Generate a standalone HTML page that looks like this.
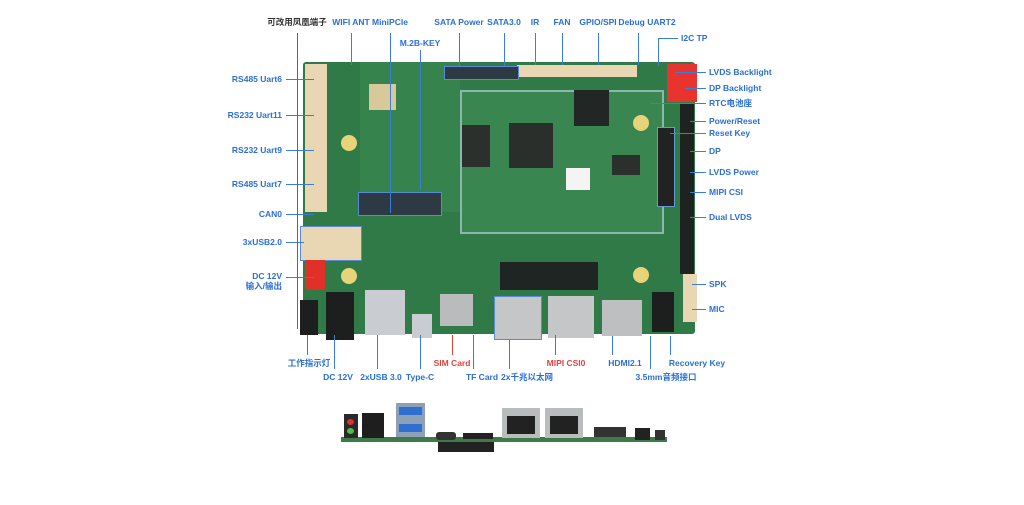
<!DOCTYPE html>
<html><head><meta charset="utf-8"><style>
body{margin:0;width:1024px;height:505px;background:#fff;position:relative;overflow:hidden;font-family:"Liberation Sans","Noto Sans CJK SC",sans-serif}
.t{position:absolute;font-size:8.5px;color:#2a6fd6;white-space:nowrap;font-weight:bold;line-height:10px}
.c{transform:translateX(-50%)}
.r{text-align:right}
.red{color:#e2453f}
.k{color:#333}
.l{position:absolute;background:#3a7ed8}
.b{position:absolute}
</style></head><body>
<!-- board -->
<div class="b" style="left:303px;top:62px;width:392px;height:272px;background:#2f7a46;border-radius:3px"></div>
<div class="b" style="left:360px;top:62px;width:100px;height:150px;background:#37834d"></div>
<div class="b" style="left:460px;top:90px;width:200px;height:140px;background:#3a8650;border:2px solid #8ab8b0"></div>
<div class="b" style="left:509px;top:123px;width:44px;height:45px;background:#2a2f2c"></div>
<div class="b" style="left:462px;top:125px;width:28px;height:42px;background:#2b302d"></div>
<div class="b" style="left:574px;top:90px;width:35px;height:36px;background:#222624"></div>
<div class="b" style="left:612px;top:155px;width:28px;height:20px;background:#2b302d"></div>
<div class="b" style="left:566px;top:168px;width:24px;height:22px;background:#f4f4f4"></div>
<div class="b" style="left:369px;top:84px;width:27px;height:26px;background:#d8c99a"></div>
<div class="b" style="left:358px;top:192px;width:82px;height:22px;background:#2d3a44;border:1px solid #5a8ad6"></div>
<div class="b" style="left:305px;top:64px;width:22px;height:148px;background:#e9d7b4"></div>
<div class="b" style="left:300px;top:226px;width:60px;height:33px;background:#e9d7b4;border:1px solid #5a8ad6"></div>
<div class="b" style="left:305px;top:260px;width:20px;height:30px;background:#e0302a"></div>
<div class="b" style="left:667px;top:64px;width:30px;height:38px;background:#e8342e"></div>
<div class="b" style="left:680px;top:104px;width:14px;height:170px;background:#1e2321"></div>
<div class="b" style="left:683px;top:274px;width:14px;height:48px;background:#e9d7b4"></div>
<div class="b" style="left:517px;top:65px;width:120px;height:12px;background:#e9d7b4"></div>
<div class="b" style="left:444px;top:66px;width:73px;height:12px;background:#2d3a44;border:1px solid #5a8ad6"></div>
<div class="b" style="left:657px;top:127px;width:16px;height:78px;background:#222;border:1px solid #6a9ad6"></div>
<div class="b" style="left:500px;top:262px;width:98px;height:28px;background:#1f2522"></div>
<div class="b" style="left:365px;top:290px;width:40px;height:45px;background:#c9ccd0"></div>
<div class="b" style="left:326px;top:292px;width:28px;height:48px;background:#1d1f1f"></div>
<div class="b" style="left:300px;top:300px;width:18px;height:35px;background:#1d1f1f"></div>
<div class="b" style="left:412px;top:314px;width:20px;height:24px;background:#c9ccd0"></div>
<div class="b" style="left:440px;top:294px;width:33px;height:32px;background:#b9bbbd"></div>
<div class="b" style="left:494px;top:296px;width:46px;height:42px;background:#c4c6c8;border:1px solid #5a8ad6"></div>
<div class="b" style="left:548px;top:296px;width:46px;height:42px;background:#c4c6c8"></div>
<div class="b" style="left:602px;top:300px;width:40px;height:36px;background:#bdbfc1"></div>
<div class="b" style="left:652px;top:292px;width:22px;height:40px;background:#1d1f1f"></div>
<div class="b" style="left:341px;top:135px;width:16px;height:16px;border-radius:50%;background:#e7d37a"></div>
<div class="b" style="left:341px;top:268px;width:16px;height:16px;border-radius:50%;background:#e7d37a"></div>
<div class="b" style="left:633px;top:115px;width:16px;height:16px;border-radius:50%;background:#e7d37a"></div>
<div class="b" style="left:633px;top:267px;width:16px;height:16px;border-radius:50%;background:#e7d37a"></div>

<!-- top labels -->
<div class="t k c" style="left:297px;top:17px">可改用凤凰端子</div>
<div class="t c" style="left:351px;top:17px">WIFI ANT</div>
<div class="t c" style="left:390px;top:17px">MiniPCle</div>
<div class="t c" style="left:459px;top:17px">SATA Power</div>
<div class="t c" style="left:504px;top:17px">SATA3.0</div>
<div class="t c" style="left:535px;top:17px">IR</div>
<div class="t c" style="left:562px;top:17px">FAN</div>
<div class="t c" style="left:598px;top:17px">GPIO/SPI</div>
<div class="t c" style="left:647px;top:17px">Debug UART2</div>
<div class="t c" style="left:420px;top:38px">M.2B-KEY</div>
<div class="t" style="left:681px;top:33px">I2C TP</div>
<div class="l" style="left:297px;top:33px;width:1px;height:296px;background:#666"></div>
<div class="l" style="left:351px;top:33px;width:1px;height:32px"></div>
<div class="l" style="left:390px;top:33px;width:1px;height:180px"></div>
<div class="l" style="left:420px;top:50px;width:1px;height:140px"></div>
<div class="l" style="left:459px;top:33px;width:1px;height:33px"></div>
<div class="l" style="left:504px;top:33px;width:1px;height:33px"></div>
<div class="l" style="left:535px;top:33px;width:1px;height:32px"></div>
<div class="l" style="left:562px;top:33px;width:1px;height:32px"></div>
<div class="l" style="left:598px;top:33px;width:1px;height:32px"></div>
<div class="l" style="left:638px;top:33px;width:1px;height:32px"></div>
<div class="l" style="left:658px;top:38px;width:20px;height:1px"></div>
<div class="l" style="left:658px;top:38px;width:1px;height:28px"></div>

<!-- left labels -->
<div class="t r" style="right:742px;top:74px">RS485 Uart6</div>
<div class="t r" style="right:742px;top:110px">RS232 Uart11</div>
<div class="t r" style="right:742px;top:145px">RS232 Uart9</div>
<div class="t r" style="right:742px;top:179px">RS485 Uart7</div>
<div class="t r" style="right:742px;top:209px">CAN0</div>
<div class="t r" style="right:742px;top:237px">3xUSB2.0</div>
<div class="t r" style="right:742px;top:271px">DC 12V</div>
<div class="t r" style="right:742px;top:281px">输入/输出</div>
<div class="l" style="left:286px;top:79px;width:28px;height:1px"></div>
<div class="l" style="left:286px;top:115px;width:28px;height:1px"></div>
<div class="l" style="left:286px;top:150px;width:28px;height:1px"></div>
<div class="l" style="left:286px;top:184px;width:28px;height:1px"></div>
<div class="l" style="left:286px;top:214px;width:28px;height:1px"></div>
<div class="l" style="left:286px;top:242px;width:18px;height:1px"></div>
<div class="l" style="left:286px;top:277px;width:28px;height:1px"></div>

<!-- right labels -->
<div class="t" style="left:709px;top:67px">LVDS Backlight</div>
<div class="t" style="left:709px;top:83px">DP Backlight</div>
<div class="t" style="left:709px;top:98px">RTC电池座</div>
<div class="t" style="left:709px;top:116px">Power/Reset</div>
<div class="t" style="left:709px;top:128px">Reset Key</div>
<div class="t" style="left:709px;top:146px">DP</div>
<div class="t" style="left:709px;top:167px">LVDS Power</div>
<div class="t" style="left:709px;top:187px">MIPI CSI</div>
<div class="t" style="left:709px;top:212px">Dual LVDS</div>
<div class="t" style="left:709px;top:279px">SPK</div>
<div class="t" style="left:709px;top:304px">MIC</div>
<div class="l" style="left:675px;top:72px;width:31px;height:1px"></div>
<div class="l" style="left:685px;top:88px;width:21px;height:1px"></div>
<div class="l" style="left:650px;top:103px;width:56px;height:1px"></div>
<div class="l" style="left:690px;top:121px;width:16px;height:1px"></div>
<div class="l" style="left:670px;top:133px;width:36px;height:1px"></div>
<div class="l" style="left:690px;top:151px;width:16px;height:1px"></div>
<div class="l" style="left:690px;top:172px;width:16px;height:1px"></div>
<div class="l" style="left:690px;top:192px;width:16px;height:1px"></div>
<div class="l" style="left:690px;top:217px;width:16px;height:1px"></div>
<div class="l" style="left:692px;top:284px;width:14px;height:1px"></div>
<div class="l" style="left:692px;top:309px;width:14px;height:1px"></div>

<!-- bottom labels -->
<div class="t c" style="left:309px;top:358px">工作指示灯</div>
<div class="t c" style="left:338px;top:372px">DC 12V</div>
<div class="t c" style="left:381px;top:372px">2xUSB 3.0</div>
<div class="t c" style="left:420px;top:372px">Type-C</div>
<div class="t red c" style="left:452px;top:358px">SIM Card</div>
<div class="t c" style="left:482px;top:372px">TF Card</div>
<div class="t c" style="left:527px;top:372px">2x千兆以太网</div>
<div class="t red c" style="left:566px;top:358px">MIPI CSI0</div>
<div class="t c" style="left:625px;top:358px">HDMI2.1</div>
<div class="t c" style="left:697px;top:358px">Recovery Key</div>
<div class="t c" style="left:666px;top:372px">3.5mm音频接口</div>
<div class="l" style="left:307px;top:335px;width:1px;height:20px"></div>
<div class="l" style="left:334px;top:335px;width:1px;height:34px"></div>
<div class="l" style="left:377px;top:335px;width:1px;height:34px"></div>
<div class="l" style="left:420px;top:335px;width:1px;height:34px"></div>
<div class="l" style="left:452px;top:335px;width:1px;height:20px;background:#e2453f"></div>
<div class="l" style="left:473px;top:335px;width:1px;height:34px"></div>
<div class="l" style="left:509px;top:340px;width:1px;height:29px"></div>
<div class="l" style="left:555px;top:335px;width:1px;height:20px;background:#e2453f"></div>
<div class="l" style="left:612px;top:336px;width:1px;height:19px"></div>
<div class="l" style="left:650px;top:336px;width:1px;height:33px"></div>
<div class="l" style="left:670px;top:336px;width:1px;height:19px"></div>

<!-- side view -->
<div class="b" style="left:341px;top:437px;width:326px;height:5px;background:#3f7b4a"></div>
<div class="b" style="left:344px;top:414px;width:14px;height:24px;background:#2a2a2a"></div>
<div class="b" style="left:347px;top:419px;width:7px;height:6px;border-radius:50%;background:#e03030"></div>
<div class="b" style="left:347px;top:428px;width:7px;height:6px;border-radius:50%;background:#4bbf4b"></div>
<div class="b" style="left:362px;top:413px;width:22px;height:25px;background:#1e1e1e"></div>
<div class="b" style="left:396px;top:403px;width:29px;height:34px;background:#8ea0b8"></div>
<div class="b" style="left:399px;top:407px;width:23px;height:8px;background:#2f6fd0"></div>
<div class="b" style="left:399px;top:424px;width:23px;height:8px;background:#2f6fd0"></div>
<div class="b" style="left:436px;top:432px;width:20px;height:8px;background:#333;border-radius:3px"></div>
<div class="b" style="left:463px;top:433px;width:30px;height:6px;background:#222"></div>
<div class="b" style="left:438px;top:442px;width:56px;height:10px;background:#222"></div>
<div class="b" style="left:502px;top:408px;width:38px;height:30px;background:#b8bcbc"></div>
<div class="b" style="left:507px;top:416px;width:28px;height:18px;background:#222"></div>
<div class="b" style="left:545px;top:408px;width:38px;height:30px;background:#b8bcbc"></div>
<div class="b" style="left:550px;top:416px;width:28px;height:18px;background:#222"></div>
<div class="b" style="left:594px;top:427px;width:32px;height:10px;background:#333"></div>
<div class="b" style="left:635px;top:428px;width:15px;height:12px;background:#222"></div>
<div class="b" style="left:655px;top:430px;width:10px;height:10px;background:#333"></div>
</body></html>
